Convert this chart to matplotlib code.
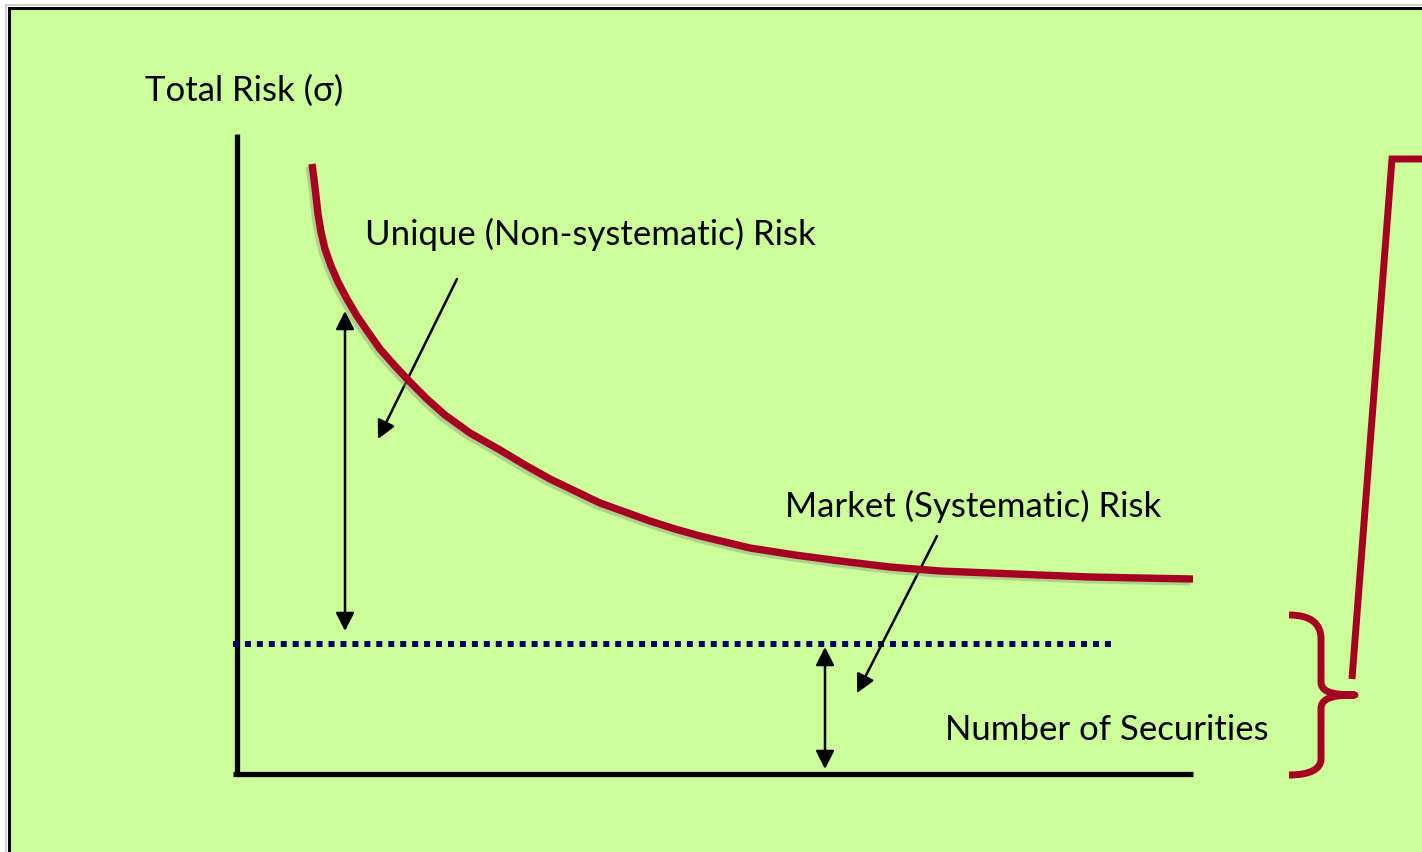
"""Diversification chart: total risk vs number of securities."""

import matplotlib

matplotlib.use("Agg")
import matplotlib.pyplot as plt
from matplotlib.patches import PathPatch, Rectangle
from matplotlib.path import Path
import matplotlib.patheffects as pe

# Curve of total risk in pixel coordinates (y grows downward).
curve_x = [312, 314, 316, 318, 321, 325, 331, 338, 347, 357, 368, 380, 395, 410, 427, 445,
           470, 500, 525, 550, 575, 600, 625, 650, 675, 700, 725, 750, 795, 840, 890, 940,
           990, 1040, 1090, 1140, 1193]
curve_y = [165, 180, 197, 215, 233, 250, 267, 283, 300, 317, 333, 350, 367, 383, 400, 416,
           434, 451, 466, 480, 492, 504, 513, 522, 530, 537, 543, 549, 556, 562, 568, 572,
           574, 576, 578, 579, 580]

market_level = 645
axis_origin = (237, 775)
axis_top = 135
axis_right = 1193

labels = {
    "y_axis": "Total Risk (σ)",
    "unique": "Unique (Non-systematic) Risk",
    "market": "Market (Systematic) Risk",
    "x_axis": "Number of Securities",
}

GREEN = "#CCFF99"
RED = "#A50021"
NAVY = "#000066"
W, H = 1422, 853

fig = plt.figure(figsize=(W / 100, H / 100), dpi=100, facecolor="white")
ax = fig.add_axes([0, 0, 1, 1])
ax.set_xlim(0, W)
ax.set_ylim(H, 0)
ax.axis("off")

# Slide panel with border
ax.add_patch(Rectangle((9, 9), W + 20, H + 20, facecolor=GREEN, edgecolor="black",
                       linewidth=2.2, zorder=0))
ax.plot([6, 6], [6, H], color="#c8c8c8", lw=1.2, zorder=0)
ax.plot([6, W], [6, 6], color="#c8c8c8", lw=1.2, zorder=0)

# Axes
ax.plot([axis_origin[0], axis_origin[0]], [axis_top, axis_origin[1] + 2], color="black",
        lw=3.8, solid_capstyle="butt", zorder=3)
ax.plot([axis_origin[0] - 4, axis_right], [axis_origin[1], axis_origin[1]], color="black",
        lw=3.8, solid_capstyle="butt", zorder=3)

# Market risk level (dotted)
ax.plot([233, 1113], [market_level, market_level], color=NAVY, lw=4.3,
        linestyle=(0, (1, 1)), dash_capstyle="butt", zorder=3)

# Total risk curve with soft shadow
ax.plot(curve_x, curve_y, color=RED, lw=5.3, solid_capstyle="butt",
        solid_joinstyle="round", zorder=4,
        path_effects=[pe.SimpleLineShadow(offset=(-2, -2), shadow_color="#8a9a7a", alpha=0.45),
                      pe.Normal()])

# Arrows
arrow_kw = dict(color="black", lw=1.8, shrinkA=0, shrinkB=0, mutation_scale=20)
ax.annotate("", xy=(345, 312), xytext=(345, 632),
            arrowprops=dict(arrowstyle="<|-|>,head_length=0.55,head_width=0.28", **arrow_kw))
ax.annotate("", xy=(825, 648), xytext=(825, 770),
            arrowprops=dict(arrowstyle="<|-|>,head_length=0.55,head_width=0.28", **arrow_kw))
ax.annotate("", xy=(378, 440), xytext=(457, 280),
            arrowprops=dict(arrowstyle="-|>,head_length=0.55,head_width=0.28", **arrow_kw))
ax.annotate("", xy=(857, 694), xytext=(937, 537),
            arrowprops=dict(arrowstyle="-|>,head_length=0.55,head_width=0.28", **arrow_kw))

# Labels
font = dict(family="Lato", fontsize=25, color="black", va="center", ha="left")
ax.text(145, 91, labels["y_axis"], **font)
ax.text(365, 234, labels["unique"], **font)
ax.text(785, 506, labels["market"], **font)
ax.text(945, 730, labels["x_axis"], **font)

# Curly brace
verts = [
    (1289, 616), (1310, 616), (1321, 624), (1321, 640),
    (1321, 683),
    (1321, 692), (1330, 696), (1355, 696),
    (1330, 696), (1321, 700), (1321, 710),
    (1321, 760),
    (1321, 770), (1310, 776), (1289, 776),
]
codes = [Path.MOVETO, Path.CURVE4, Path.CURVE4, Path.CURVE4,
         Path.LINETO,
         Path.CURVE4, Path.CURVE4, Path.CURVE4,
         Path.CURVE4, Path.CURVE4, Path.CURVE4,
         Path.LINETO,
         Path.CURVE4, Path.CURVE4, Path.CURVE4]
ax.add_patch(PathPatch(Path(verts, codes), facecolor="none", edgecolor=RED, lw=5.0,
                       capstyle="butt", joinstyle="round", zorder=4))

# Connector line from brace
ax.plot([1352, 1392, W + 5], [680, 160, 160], color=RED, lw=5.0,
        solid_joinstyle="miter", solid_capstyle="butt", zorder=4)

fig.savefig("out.png", dpi=100, facecolor=fig.get_facecolor())
